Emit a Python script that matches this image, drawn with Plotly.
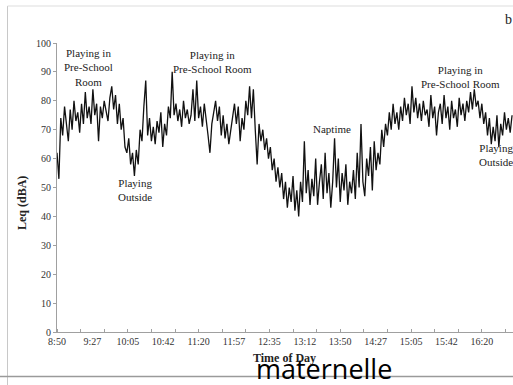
import plotly.graph_objects as go

# Leq (dBA) sampled every 2 minutes starting at 8:50
leq = [
    62, 53, 74, 68, 78, 72, 66, 77, 70, 80, 73, 76, 69, 79, 72,
    83, 74, 78, 72, 84, 75, 79, 66, 78, 74, 80, 76, 73, 81, 85,
    77, 82, 72, 79, 70, 74, 64, 62, 67, 58, 62, 54, 63, 58, 70,
    66, 78, 87, 68, 74, 66, 71, 65, 73, 69, 76, 64, 72, 68, 78,
    74, 90, 75, 79, 73, 77, 71, 80, 74, 77, 72, 75, 84, 73, 87,
    74, 78, 71, 79, 74, 68, 62, 72, 76, 80, 73, 78, 68, 75, 67,
    72, 65, 70, 74, 79, 72, 78, 66, 74, 70, 80, 75, 85, 74, 84,
    70, 58, 72, 66, 70, 63, 67, 60, 64, 56, 60, 52, 57, 50, 55,
    46, 52, 43, 50, 45, 54, 42, 49, 40, 52, 45, 66, 48, 56, 44,
    53, 47, 60, 44, 52, 58, 46, 62, 48, 55, 43, 52, 67, 50, 60,
    45, 55, 49, 58, 44, 52, 48, 56, 46, 62, 50, 72, 52, 47, 60,
    54, 64, 49, 66, 56, 62, 58, 70, 64, 72, 68, 76, 70, 79, 72,
    76, 70, 78, 73, 81, 75, 79, 72, 85, 76, 81, 74, 79, 73, 80,
    75, 77, 71, 82, 74, 78, 68, 76, 79, 72, 82, 74, 78, 70, 80,
    74, 77, 71, 81, 75, 79, 73, 80, 76, 83, 77, 84, 78, 80, 74,
    79, 72, 76, 68, 74, 65, 71, 66, 75, 64, 72, 68, 76, 70, 74, 69, 75,
]
minutes = [2 * i for i in range(len(leq))]

tick_minutes = [0, 37.5, 75, 112.5, 150, 187.5, 225, 262.5, 300, 337.5, 375, 412.5, 450]
tick_labels = ["8:50", "9:27", "10:05", "10:42", "11:20", "11:57", "12:35",
               "13:12", "13:50", "14:27", "15:05", "15:42", "16:20"]
y_ticks = [0, 10, 20, 30, 40, 50, 60, 70, 80, 90, 100]

W, H = 513, 385
L, R, T, B = 57, 0, 43, 53
PW, PH = W - L - R, H - T - B


def px(x, y):
    return (x - L) / PW, (H - B - y) / PH


SERIF = "Liberation Serif"

fig = go.Figure()
fig.add_trace(go.Scatter(x=minutes, y=leq, mode="lines",
                         line=dict(color="#111111", width=1.3), showlegend=False))

fig.update_layout(
    width=W, height=H,
    margin=dict(l=L, r=R, t=T, b=B, pad=0),
    paper_bgcolor="white", plot_bgcolor="white",
    font=dict(family=SERIF, color="#333333", size=10),
    xaxis=dict(range=[0, 483], showgrid=False, zeroline=False,
               tickvals=tick_minutes, ticktext=tick_labels, ticks="",
               showline=True, linecolor="#a0a0a0", linewidth=1,
               tickfont=dict(family=SERIF, size=10, color="#333333"),
               minor=dict(dtick=25, tick0=0, ticks="inside", ticklen=3,
                          tickcolor="#a0a0a0", showgrid=False)),
    yaxis=dict(range=[0, 100], showgrid=False, zeroline=False,
               tickvals=y_ticks, ticks="outside", ticklen=3,
               tickcolor="#a0a0a0",
               showline=True, linecolor="#a0a0a0", linewidth=1,
               tickfont=dict(family=SERIF, size=10, color="#333333")),
)

ann_font = dict(family=SERIF, size=11, color="#222222")


def add_text(text, x, y, font, xanchor="center", angle=0):
    ax, ay = px(x, y)
    fig.add_annotation(text=text, x=ax, y=ay, xref="paper", yref="paper",
                       showarrow=False, xanchor=xanchor, yanchor="middle",
                       font=font, textangle=angle, align="center")


add_text("Playing in<br>Pre-School<br>Room", 88, 67, ann_font)
add_text("Playing<br>Outside", 135, 190, ann_font)
add_text("Playing in<br>Pre-School Room", 212, 62, ann_font)
add_text("Naptime", 332, 129, ann_font)
add_text("Playing in<br>Pre-School Room", 460, 77, ann_font)
add_text("Playing<br>Outside", 477, 155, ann_font, xanchor="left")

add_text("<b>Leq (dBA)</b>", 22, 203, dict(family=SERIF, size=12, color="#222222"), angle=-90)
add_text("<b>Time of Day</b>", 284, 358, dict(family=SERIF, size=12, color="#222222"))
add_text("b", 508, 19, dict(family=SERIF, size=14, color="#222222"))
add_text("maternelle", 324, 368, dict(family="Open Sans", size=27, color="#000000"))

# frame lines of the screenshot
x0, _ = px(7.5, 0)
x1, _ = px(513, 0)
_, yt = px(0, 6)
_, yb = px(0, 376.5)
_, ybot = px(0, 385)
fig.add_shape(type="line", xref="paper", yref="paper", x0=x0, x1=x0, y0=ybot, y1=yt,
              line=dict(color="#c8c8c8", width=1))
fig.add_shape(type="line", xref="paper", yref="paper", x0=x0, x1=x1, y0=yt, y1=yt,
              line=dict(color="#dddddd", width=1))
fig.add_shape(type="line", xref="paper", yref="paper", x0=px(0, 0)[0] - L / PW, x1=x1, y0=yb, y1=yb,
              line=dict(color="#9a9a9a", width=1.5))

fig.write_html("out.html", config={"displayModeBar": False},
               post_script="document.body.style.margin='0px';document.body.style.overflow='hidden';")
